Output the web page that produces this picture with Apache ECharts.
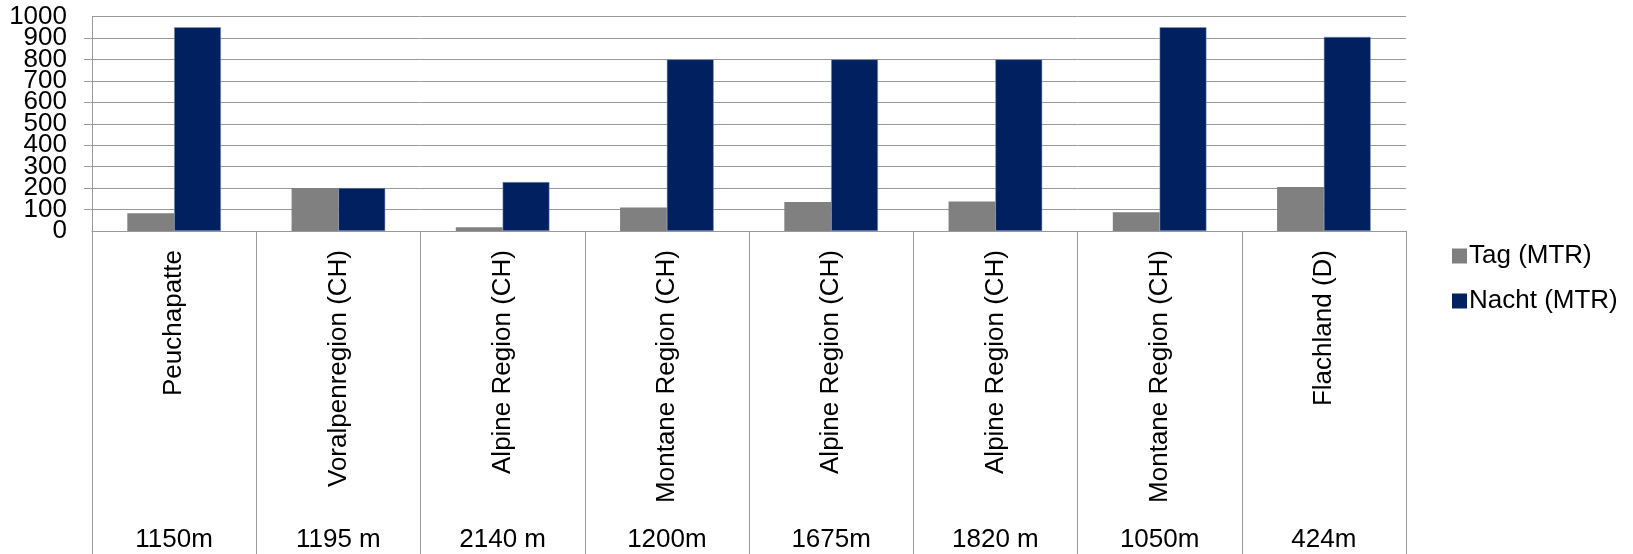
<!DOCTYPE html>
<html>
<head>
<meta charset="utf-8">
<script src="https://cdn.jsdelivr.net/npm/echarts@6/dist/echarts.min.js"></script>
<style>
    html, body { margin: 0; padding: 0; background: #fff; }
    #chart { width: 1633px; height: 554px; }
</style>
</head>
<body>
<div id="chart"></div>
<script>
var regions = ['Peuchapatte', 'Voralpenregion (CH)', 'Alpine Region (CH)', 'Montane Region (CH)',
    'Alpine Region (CH)', 'Alpine Region (CH)', 'Montane Region (CH)', 'Flachland (D)'];
var altitudes = ['1150m', '1195 m', '2140 m', '1200m', '1675m', '1820 m', '1050m', '424m'];
var tagData = [83, 200, 17, 110, 135, 137, 87, 205];
var nachtData = [950, 200, 228, 800, 800, 800, 950, 905];
var yTicks = [0, 100, 200, 300, 400, 500, 600, 700, 800, 900, 1000];

var font = 'Liberation Sans, Arial, sans-serif';
var lineColor = '#999999';
var fs = 26;
var yMin = yTicks[0];
var yMax = yTicks[yTicks.length - 1];
var yStep = yTicks[1] - yTicks[0];

var chart = echarts.init(document.getElementById('chart'));

var option = {
    animation: false,
    textStyle: { fontFamily: font },
    legend: {
        orient: 'vertical',
        left: 1447,
        top: 238,
        itemWidth: 15,
        itemHeight: 15,
        itemGap: 19,
        icon: 'rect',
        textStyle: { fontSize: fs, color: '#000', fontFamily: font, padding: [0, 0, 0, -3] },
        data: [
            { name: 'Tag (MTR)', itemStyle: { color: '#808080', borderWidth: 0 } },
            { name: 'Nacht (MTR)', itemStyle: { color: '#002060', borderWidth: 0 } }
        ]
    },
    grid: {
        left: 92,
        right: 227,
        top: 16.5,
        bottom: 323
    },
    xAxis: [{
        type: 'category',
        data: regions,
        position: 'bottom',
        axisLine: { lineStyle: { color: lineColor, width: 1 } },
        axisTick: { show: true, length: 330, lineStyle: { color: lineColor } },
        axisLabel: {
            rotate: 90,
            interval: 0,
            margin: 19,
            fontSize: fs,
            color: '#000',
            fontFamily: font
        }
    }, {
        type: 'category',
        data: altitudes,
        position: 'bottom',
        offset: 290,
        axisLine: { show: false },
        axisTick: { show: false },
        axisLabel: {
            interval: 0,
            margin: 6,
            fontSize: fs,
            color: '#000',
            fontFamily: font
        }
    }],
    yAxis: [{
        type: 'value',
        min: yMin,
        max: yMax,
        interval: yStep,
        axisLine: { show: true, lineStyle: { color: lineColor } },
        axisTick: { show: true, length: 8, lineStyle: { color: lineColor } },
        axisLabel: {
            fontSize: fs,
            color: '#000',
            margin: 25,
            fontFamily: font,
            formatter: function (val) {
                return String(val);
            }
        },
        splitLine: { show: true, lineStyle: { color: lineColor, width: 1 } }
    }, {
        // second copy of the scale, only to print 0 and 1000 which the first one drops
        type: 'value',
        position: 'left',
        min: yMin,
        max: yMax,
        interval: yStep,
        axisLine: { show: false },
        axisTick: { show: false },
        splitLine: { show: false },
        axisLabel: {
            fontSize: fs,
            color: '#000',
            margin: 25,
            fontFamily: font,
            showMinLabel: true,
            showMaxLabel: true,
            formatter: function (val) {
                return (val === yMin || val === yMax) ? String(val) : '';
            }
        }
    }],
    series: [{
        name: 'Tag (MTR)',
        type: 'bar',
        data: tagData,
        barGap: '0%',
        barCategoryGap: '43%',
        itemStyle: { color: '#808080' }
    }, {
        name: 'Nacht (MTR)',
        type: 'bar',
        data: nachtData,
        barGap: '0%',
        barCategoryGap: '43%',
        itemStyle: { color: '#002060', borderColor: '#8a9ab8', borderWidth: 0.5 }
    }]
};
chart.setOption(option);
</script>
</body>
</html>
